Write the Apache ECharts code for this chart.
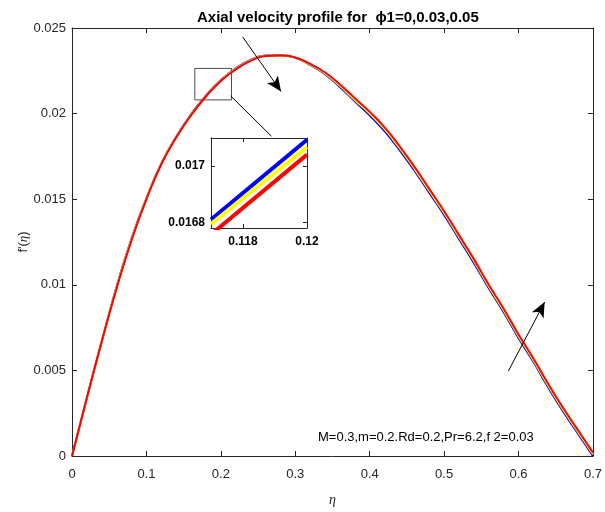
<!DOCTYPE html>
<html>
<head>
<meta charset="utf-8">
<script src="https://cdn.jsdelivr.net/npm/echarts/dist/echarts.min.js"></script>
<style>
  html, body { margin: 0; padding: 0; background: #fff; }
  #main { width: 605px; height: 512px; }
</style>
</head>
<body>
<div id="main"></div>
<script>
// eta grid and f'(eta) for phi1 = 0 (blue), 0.03 (yellow), 0.05 (red)
var eta = [0, 0.02, 0.04, 0.06, 0.08, 0.10, 0.12, 0.14, 0.16, 0.18, 0.20, 0.22, 0.24, 0.26, 0.28, 0.30, 0.32, 0.34,
           0.36, 0.38, 0.40, 0.42, 0.44, 0.46, 0.48, 0.50, 0.52, 0.54, 0.56, 0.58, 0.60, 0.62, 0.64, 0.66, 0.68, 0.70];

var phi0 = [0, 0.0034, 0.0067, 0.0099, 0.0127, 0.01505, 0.01709, 0.01865, 0.01996, 0.02106, 0.02196, 0.02264, 0.02313, 0.02339, 0.02341, 0.02326, 0.02284, 0.0223,
            0.02155, 0.02072, 0.0199, 0.01898, 0.01788, 0.01668, 0.01538, 0.01408, 0.01268, 0.01128, 0.0098, 0.0084, 0.0069, 0.0055, 0.0040, 0.0026, 0.0013, 0.0];

var phi003 = [0, 0.0034, 0.0067, 0.00985, 0.01265, 0.01503, 0.01707, 0.01862, 0.01993, 0.02103, 0.02193, 0.02261, 0.0231, 0.02338, 0.0234, 0.02327, 0.02287, 0.02235,
              0.02162, 0.0208, 0.0200, 0.01909, 0.01799, 0.01679, 0.01549, 0.01419, 0.01279, 0.01139, 0.0099, 0.0085, 0.0070, 0.0056, 0.0041, 0.0027, 0.0014, 0.0001];

var phi005 = [0, 0.0034, 0.0067, 0.0098, 0.0126, 0.0150, 0.01704, 0.0186, 0.0199, 0.0210, 0.0219, 0.02258, 0.02308, 0.02336, 0.0234, 0.02328, 0.0229, 0.0224,
              0.0217, 0.0209, 0.0201, 0.0192, 0.0181, 0.0169, 0.0156, 0.0143, 0.0129, 0.0115, 0.0100, 0.0086, 0.0071, 0.0057, 0.0042, 0.0028, 0.0015, 0.0002];

// zoomed inset
var insetEta = [0.117, 0.12];
var insetPhi0 = [0.01681, 0.017094];
var insetPhi003 = [0.016794, 0.017068];
var insetPhi005 = [0.016757, 0.017041];

var insetXTicks = [0.118, 0.12];
var insetYTicks = [0.0168, 0.017];

function pairs(xs, ys) {
    var out = [];
    for (var i = 0; i < xs.length; i++) out.push([xs[i], ys[i]]);
    return out;
}

var axisCol = '#262626';
var font = 'Liberation Sans, Arial, sans-serif';

var myChart = echarts.init(document.getElementById('main'));

function mainX(pos, labels) {
    return {
        gridIndex: 0, type: 'value', position: pos, min: 0, max: 0.7, interval: 0.1,
        axisLine: { show: true, onZero: false, lineStyle: { color: axisCol, width: 1 } },
        axisTick: { show: true, inside: true, length: 5, lineStyle: { color: axisCol } },
        axisLabel: { show: labels, color: axisCol, fontSize: 13, fontFamily: font, margin: 12 },
        splitLine: { show: false }
    };
}
function mainY(pos, labels) {
    return {
        gridIndex: 0, type: 'value', position: pos, min: 0, max: 0.025, interval: 0.005,
        axisLine: { show: true, onZero: false, lineStyle: { color: axisCol, width: 1 } },
        axisTick: { show: true, inside: true, length: 5, lineStyle: { color: axisCol } },
        axisLabel: { show: labels, color: axisCol, fontSize: 13, fontFamily: font, margin: 6 },
        splitLine: { show: false }
    };
}
function insetX(pos, labels) {
    return {
        gridIndex: 1, type: 'value', position: pos, min: 0.117, max: 0.12,
        axisLine: { show: true, onZero: false, lineStyle: { color: axisCol, width: 1 } },
        axisTick: { show: true, inside: true, length: 4, customValues: insetXTicks, lineStyle: { color: axisCol } },
        axisLabel: { show: labels, customValues: insetXTicks, color: '#000', fontSize: 12, fontWeight: 'bold', fontFamily: font, margin: 8 },
        splitLine: { show: false }
    };
}
function insetY(pos, labels) {
    return {
        gridIndex: 1, type: 'value', position: pos, min: 0.01678, max: 0.0171,
        axisLine: { show: true, onZero: false, lineStyle: { color: axisCol, width: 1 } },
        axisTick: { show: true, inside: true, length: 4, customValues: insetYTicks, lineStyle: { color: axisCol } },
        axisLabel: { show: labels, customValues: insetYTicks, color: '#000', fontSize: 12, fontWeight: 'bold', fontFamily: font, margin: 6 },
        splitLine: { show: false }
    };
}

var xa0 = mainX('bottom', true);
xa0.name = 'η';
xa0.nameLocation = 'middle';
xa0.nameGap = 37;
xa0.nameMoveOverlap = false;
xa0.nameTextStyle = { fontFamily: 'Liberation Serif, serif', fontStyle: 'italic', fontSize: 14, color: axisCol };

var ya0 = mainY('left', true);
ya0.name = "{a|f'(}{b|η}{a|)}";
ya0.nameLocation = 'middle';
ya0.nameGap = 42;
ya0.nameMoveOverlap = false;
ya0.nameTextStyle = {
    rich: {
        a: { fontFamily: font, fontSize: 13, color: axisCol },
        b: { fontFamily: 'Liberation Serif, serif', fontStyle: 'italic', fontSize: 13, color: axisCol }
    }
};

option = {
    animation: false,
    backgroundColor: '#fff',
    title: {
        text: 'Axial velocity profile for  ϕ1=0,0.03,0.05',
        left: 192,
        top: 5,
        textStyle: { fontFamily: font, fontSize: 15, fontWeight: 'bold', color: '#000' }
    },
    grid: [
        { left: 72, top: 28, width: 525, height: 435 },
        { left: 211, top: 138, width: 96, height: 90 }
    ],
    xAxis: [mainX('top', false), xa0, insetX('bottom', true), insetX('top', false)],
    yAxis: [ya0, mainY('right', false), insetY('left', true), insetY('right', false)],
    graphic: [{
        type: 'text',
        left: 318,
        top: 431,
        style: { text: 'M=0.3,m=0.2.Rd=0.2,Pr=6.2,f 2=0.03', font: '13px Liberation Sans, Arial, sans-serif', fill: '#000' }
    }],
    series: [
        {
            name: 'phi1=0', type: 'line', xAxisIndex: 1, yAxisIndex: 0, data: pairs(eta, phi0),
            smooth: true, showSymbol: false, lineStyle: { color: '#0000ff', width: 2 }, z: 2
        },
        {
            name: 'phi1=0.03', type: 'line', xAxisIndex: 1, yAxisIndex: 0, data: pairs(eta, phi003),
            smooth: true, showSymbol: false, lineStyle: { color: '#ffff00', width: 2 }, z: 3
        },
        {
            name: 'phi1=0.05', type: 'line', xAxisIndex: 1, yAxisIndex: 0, data: pairs(eta, phi005),
            smooth: true, showSymbol: false, lineStyle: { color: '#ff0000', width: 2 }, z: 4,
            markArea: {
                silent: true,
                itemStyle: { color: 'rgba(0,0,0,0)', borderColor: '#4d4d4d', borderWidth: 1 },
                label: { show: false },
                data: [[{ coord: [0.165, 0.02264] }, { coord: [0.2143, 0.0208] }]]
            },
            markLine: {
                silent: true,
                animation: false,
                label: { show: false },
                lineStyle: { color: '#000', width: 1, type: 'solid' },
                data: [
                    [{ coord: [0.2133, 0.02103], symbol: 'none' }, { coord: [0.268, 0.01868], symbol: 'none' }],
                    [{ coord: [0.2293, 0.02448], symbol: 'none' }, { coord: [0.2809, 0.02129], symbol: 'arrow', symbolSize: [10, 15] }],
                    [{ coord: [0.5863, 0.00496], symbol: 'none' }, { coord: [0.6351, 0.00899], symbol: 'arrow', symbolSize: [10, 15] }]
                ]
            }
        },
        {
            type: 'line', xAxisIndex: 2, yAxisIndex: 2, data: pairs(insetEta, insetPhi0), clip: true,
            showSymbol: false, lineStyle: { color: '#0000ff', width: 4 }, z: 6
        },
        {
            type: 'line', xAxisIndex: 2, yAxisIndex: 2, data: pairs(insetEta, insetPhi003), clip: true,
            showSymbol: false, lineStyle: { color: '#ffff00', width: 4 }, z: 6
        },
        {
            type: 'line', xAxisIndex: 2, yAxisIndex: 2, data: pairs(insetEta, insetPhi005), clip: true,
            showSymbol: false, lineStyle: { color: '#ff0000', width: 4 }, z: 6
        }
    ]
};

myChart.setOption(option);
</script>
</body>
</html>
